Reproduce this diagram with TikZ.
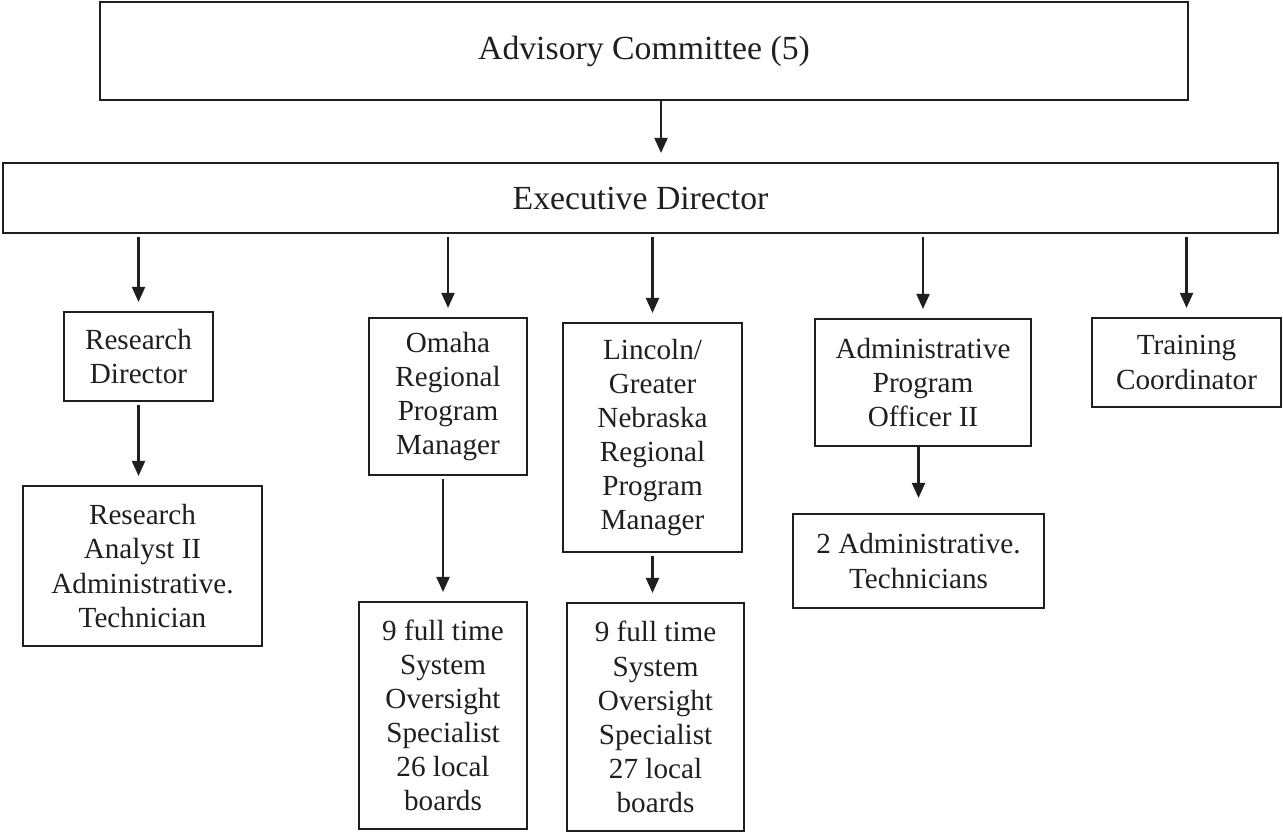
\documentclass[tikz,border=0pt]{standalone}
\usepackage{fontspec}
\setmainfont{Liberation Serif}
\usetikzlibrary{arrows.meta}
\colorlet{ink}{black!88}

\begin{document}
\begin{tikzpicture}[
        unit/.style={draw=ink, text=ink, line width=0.6pt, align=center, inner sep=0pt,
            font=\fontsize{8.3pt}{9.7pt}\selectfont},
        head/.style={unit, font=\fontsize{9.6pt}{11.6pt}\selectfont},
        arr/.style={draw=ink, line width=0.6pt, -{Triangle[length=1.5mm,width=1.3mm]},
            shorten >=0.09cm, shorten <=0.03cm}
    ]
            \useasboundingbox (0,0) rectangle (12.83,-8.34);

            \node[head, minimum width=10.88cm, minimum height=0.98cm] (adv) at (6.44,-0.51) {Advisory Committee (5)};
            \node[head, minimum width=12.75cm, minimum height=0.70cm] (exec) at (6.405,-1.98) {Executive Director};

            \node[unit, minimum width=1.49cm, minimum height=0.89cm] (rd) at (1.385,-3.565) {Research\\Director};
            \node[unit, minimum width=2.39cm, minimum height=1.60cm] (ra) at (1.425,-5.66) {Research\\Analyst II\\Administrative.\\Technician};
            \node[unit, minimum width=1.58cm, minimum height=1.57cm] (om) at (4.48,-3.965) {Omaha\\Regional\\Program\\Manager};
            \node[unit, minimum width=1.68cm, minimum height=2.27cm] (oms) at (4.43,-7.155) {9 full time\\System\\Oversight\\Specialist\\26 local\\boards};
            \node[unit, minimum width=1.79cm, minimum height=2.29cm] (li) at (6.525,-4.375) {Lincoln/\\Greater\\Nebraska\\Regional\\Program\\Manager};
            \node[unit, minimum width=1.77cm, minimum height=2.28cm] (lis) at (6.555,-7.17) {9 full time\\System\\Oversight\\Specialist\\27 local\\boards};
            \node[unit, minimum width=2.16cm, minimum height=1.27cm] (apo) at (9.23,-3.825) {Administrative\\Program\\Officer II};
            \node[unit, minimum width=2.51cm, minimum height=0.94cm] (at) at (9.185,-5.61) {2 Administrative.\\Technicians};
            \node[unit, minimum width=1.89cm, minimum height=0.89cm] (tc) at (11.865,-3.625) {Training\\Coordinator};

            % arrows
            \draw[arr, shorten <=0pt] ([xshift=0.17cm]adv.south) -- ([xshift=0.17cm]adv.south |- exec.north);
            \foreach \n in {rd,om,li,apo,tc} {
                \draw[arr] (exec.south -| \n.north) -- (\n.north);
            }
            \draw[arr] (rd.south) -- (rd.south |- ra.north);
            \draw[arr] (om.south -| oms.north) -- (oms.north);
            \draw[arr] (li.south) -- (li.south |- lis.north);
            \draw[arr, shorten <=0pt, shorten >=0.15cm] (apo.south -| at.north) -- (at.north);
        \end{tikzpicture}
\end{document}
